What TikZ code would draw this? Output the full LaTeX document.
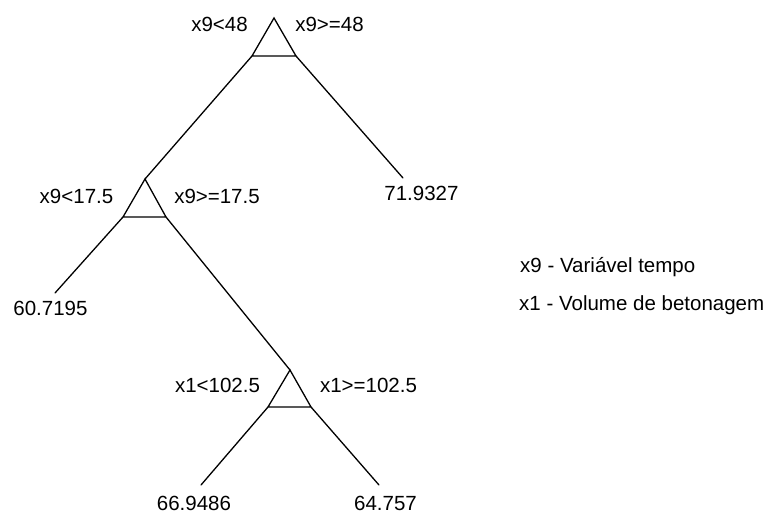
\documentclass[tikz,border=0pt]{standalone}
\usepackage{fontspec}
\setmainfont{Liberation Sans}
\begin{document}
\begin{tikzpicture}[x=1pt,y=-1pt,
  edge/.style={line width=1.3pt,line cap=round,line join=miter},
  lbl/.style={inner sep=0pt,anchor=base,font=\fontsize{20.5}{24}\selectfont},
  leg/.style={inner sep=0pt,anchor=base west,font=\fontsize{20.5}{24}\selectfont}]
\useasboundingbox (0,0) rectangle (769,515);
% split triangles
\coordinate (a1) at (274,18); \coordinate (l1) at (252,56); \coordinate (r1) at (296,56);
\coordinate (a2) at (145,179); \coordinate (l2) at (123,217); \coordinate (r2) at (166,217);
\coordinate (a3) at (290,370); \coordinate (l3) at (268,407); \coordinate (r3) at (311,407);
% leaf line ends
\coordinate (e719) at (403,178);
\coordinate (e607) at (55,293);
\coordinate (e669) at (201,485);
\coordinate (e647) at (379,485);
\draw[edge] (l1) -- (a1) -- (r1) -- cycle;
\draw[edge] (l2) -- (a2) -- (r2) -- cycle;
\draw[edge] (l3) -- (a3) -- (r3) -- cycle;
\draw[edge] (l1) -- (a2);
\draw[edge] (r1) -- (e719);
\draw[edge] (l2) -- (e607);
\draw[edge] (r2) -- (a3);
\draw[edge] (l3) -- (e669);
\draw[edge] (r3) -- (e647);
% labels
\node[lbl] (s1l) at (219.5,31) {x9<48};
\node[lbl] (s1r) at (329.5,31) {x9>=48};
\node[lbl] (s2l) at (76.5,203) {x9<17.5};
\node[lbl] (s2r) at (217,203) {x9>=17.5};
\node[lbl] (s3l) at (217.5,392) {x1<102.5};
\node[lbl] (s3r) at (368.5,392) {x1>=102.5};
\node[lbl] (v719) at (421.5,200) {71.9327};
\node[lbl] (v607) at (50.5,315) {60.7195};
\node[lbl] (v669) at (194,510) {66.9486};
\node[lbl] (v647) at (385.5,510) {64.757};
\node[leg] (lg1) at (520,272) {x9 - Variável tempo};
\node[leg] (lg2) at (519,310) {x1 - Volume de betonagem};
\end{tikzpicture}
\end{document}
